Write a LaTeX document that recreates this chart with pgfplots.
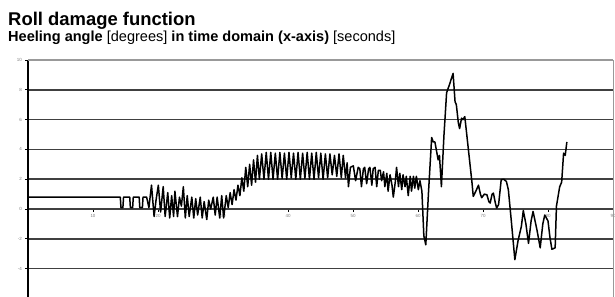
\documentclass[border=0pt]{standalone}
\usepackage{fontspec}
\setmainfont{Liberation Sans}
\usepackage{pgfplots}
\pgfplotsset{compat=1.18}
\begin{document}
\begin{tikzpicture}
\path[use as bounding box] (0,0) rectangle (615bp,297bp);
\node[anchor=base west, inner sep=0pt, font=\fontsize{18.5}{21}\selectfont\bfseries] at (8bp,271bp) {Roll damage function};
\node[anchor=base west, inner sep=0pt, font=\fontsize{14.6}{16}\selectfont] at (8bp,255bp) {\textbf{Heeling angle} [degrees] \textbf{in time domain (x-axis)} [seconds]};
\begin{axis}[
  at={(28bp,0bp)}, anchor=south west, scale only axis,
  width=585bp, height=237bp,
  xmin=0, xmax=90, ymin=-5.9, ymax=10,
  axis x line=middle, axis y line=left,
  x axis line style={-, draw=black!75, line width=1.6bp},
  y axis line style={-, draw=black, line width=1.6bp},
  xtick={0,10,...,90}, ytick={-4,-2,...,8},
  extra y ticks={10},
  extra y tick style={grid style={draw=black!40, line width=1.2bp}},
  ymajorgrids,
  grid style={draw=black!75, line width=1.6bp},
  tick align=outside, major tick length=2.5bp,
  tick style={black, line width=0.8bp},
  tick label style={font=\fontsize{4.5}{5}\selectfont, text=black!50},
  /pgf/number format/assume math mode=true,
  xticklabel style={yshift=0.5bp},
  clip=false,
]
\draw[black!40, line width=1bp] (axis cs:90,10) -- (axis cs:90,-5.9);
\addplot[black, line width=1.5bp, line join=round] coordinates {
(0,0.8) (14.2,0.8) (14.3,0.1) (14.6,0.1) (14.7,0.8) (15.65,0.8) (15.75,0.1) (16.1,0.1) (16.2,0.8) (17.1,0.8) (17.2,0.1) (17.6,0.1) (17.7,0.8) (18.25,0.8)
(18.6,0.1) (19.0,1.6) (19.4,-0.5) (19.7,0.6) (20.05,1.6) (20.4,-0.2) (20.8,1.5) (21.1,-0.5) (21.5,1.1) (21.8,-0.6) (22.1,0.9) (22.4,-0.5) (22.6,1.2) (23.0,-0.5) (23.3,0.8) (23.6,0.2) (23.9,1.5) (24.2,-0.6) (24.5,0.9) (24.8,-0.5) (25.2,0.8) (25.5,-0.6) (25.8,0.7) (26.1,-0.4) (26.5,0.8) (26.8,-0.6) (27.1,0.5) (27.5,-0.7) (27.8,0.6) (28.1,0.0) (28.5,0.8) (28.8,-0.4) (29.1,0.8) (29.5,-0.6) (29.8,0.9) (30.1,-0.6) (30.5,0.9) (30.8,0.1) (31.1,1.1) (31.4,0.3) (31.7,1.3) (32.0,0.6) (32.3,1.6) (32.6,0.9) (32.9,2.1) (33.2,1.2) (33.5,2.8) (33.8,1.5) (34.1,3.0) (34.4,1.6) (34.7,3.3) (35.0,1.8) (35.3,3.6) (35.6,2.0) (35.95,3.7) (36.3,2.0) (36.65,3.8)
(37.0,2.0) (37.35,3.8) (37.7,2.0) (38.05,3.75) (38.4,2.0) (38.75,3.8) (39.1,2.05) (39.45,3.75) (39.8,2.0) (40.15,3.8) (40.5,2.1) (40.85,3.75) (41.2,2.0) (41.55,3.8) (41.9,2.0) (42.25,3.75) (42.6,2.05) (42.95,3.8) (43.3,2.0) (43.65,3.75) (44.0,2.0) (44.35,3.8) (44.7,2.1) (45.05,3.75) (45.4,2.0) (45.75,3.7) (46.1,2.1) (46.45,3.7) (46.8,2.3) (47.15,3.6) (47.5,2.2) (47.85,3.7) (48.2,2.1) (48.5,3.6)
(48.85,2.1) (49.1,3.1) (49.3,1.5) (49.6,2.8) (50.05,2.9) (50.4,1.9) (50.8,2.8) (51.05,2.7) (51.3,1.5) (51.6,2.7) (51.8,2.8) (52.1,1.7) (52.4,2.7) (52.6,2.8) (52.9,1.6) (53.1,2.7) (53.4,2.8) (53.65,1.5) (53.9,2.6) (54.2,2.6) (54.4,1.9) (54.7,2.5) (54.9,1.5) (55.2,2.4) (55.4,1.2) (55.7,2.3) (56.0,1.6) (56.2,0.8) (56.5,1.8) (56.7,2.8) (57.0,1.5) (57.2,2.4) (57.5,1.3) (57.7,2.3) (58.0,1.5) (58.2,2.2) (58.5,0.9) (58.8,2.2) (59.0,1.2) (59.3,2.2) (59.5,1.4) (59.75,2.2) (60.05,1.3) (60.3,1.9)
(60.6,1.2) (60.9,-1.8) (61.2,-2.4) (61.6,1.0) (62.1,4.8) (62.35,4.5) (62.6,4.5) (62.85,3.9) (63.1,3.3) (63.3,3.6) (63.6,1.5) (64.0,5.0) (64.4,7.8) (64.8,8.3) (65.1,8.7) (65.4,9.1) (65.7,7.2) (65.9,7.0) (66.2,5.8) (66.4,5.4) (66.7,6.1) (66.9,6.0) (67.2,6.2) (67.8,3.8) (68.3,1.8) (68.5,0.85) (68.9,1.2) (69.3,1.6) (69.6,1.0) (69.8,0.76) (70.2,1.0) (70.6,0.96) (70.9,0.5) (71.1,0.4) (71.4,1.0) (71.6,1.07) (71.9,0.4) (72.1,0.07) (72.4,0.3) (72.8,1.97) (73.2,2.0) (73.6,1.85) (73.9,1.3) (74.4,-1.0) (74.9,-3.4) (75.4,-2.1) (75.9,-1.17) (76.2,-0.1) (76.6,-1.0) (77.0,-2.3) (77.4,-0.8) (77.7,-0.16) (78.3,-1.4) (78.8,-2.6) (79.2,-1.0) (79.5,-0.4) (80.0,-0.8) (80.3,-1.9) (80.6,-2.7) (81.1,-2.6) (81.3,0.2) (81.8,1.5) (82.1,1.8) (82.4,3.75) (82.65,3.6) (82.9,4.5)
};
\end{axis}
\end{tikzpicture}
\end{document}
